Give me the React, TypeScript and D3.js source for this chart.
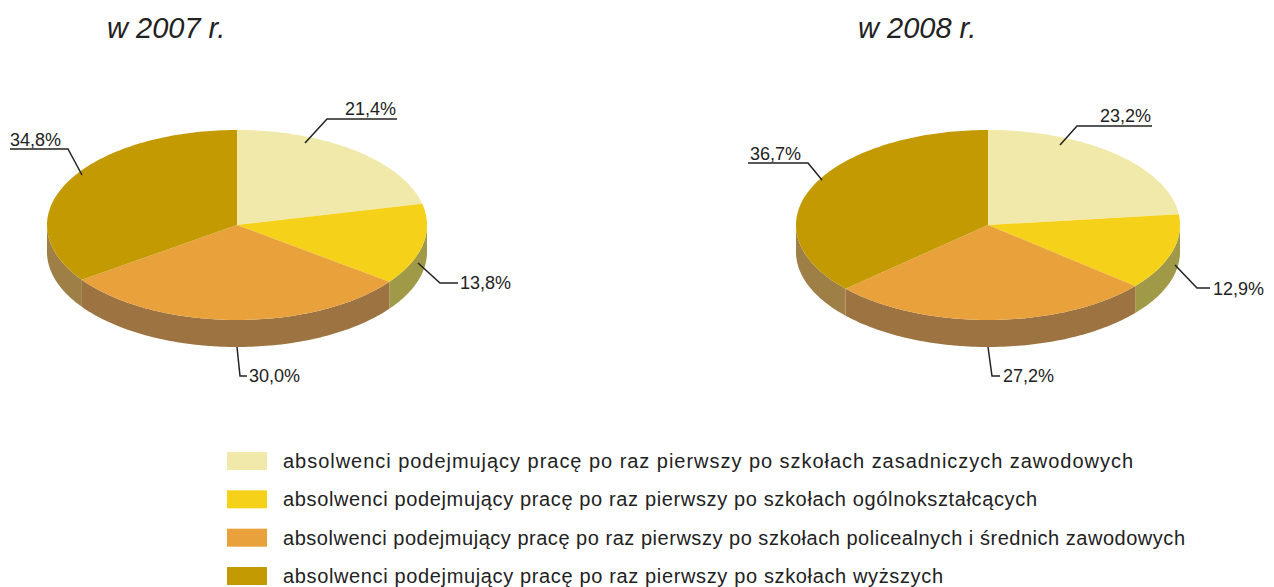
import { useEffect } from 'react'
import * as d3 from 'd3'

// categories (legend order = slice order, clockwise from 12 o'clock)
const categories = [
  'absolwenci podejmujący pracę po raz pierwszy po szkołach zasadniczych zawodowych',
  'absolwenci podejmujący pracę po raz pierwszy po szkołach ogólnokształcących',
  'absolwenci podejmujący pracę po raz pierwszy po szkołach policealnych i średnich zawodowych',
  'absolwenci podejmujący pracę po raz pierwszy po szkołach wyższych',
]
const years = ['w 2007 r.', 'w 2008 r.']
const values2007 = [21.4, 13.8, 30.0, 34.8]
const values2008 = [23.2, 12.9, 27.2, 36.7]

const topColors = ['#f0e9a9', '#f6d119', '#e9a13b', '#c49a02']
const sideColors = ['#b0a860', '#a09a48', '#9d7441', '#9e8046']

const W = 1274
const H = 587

// leader line layout relative to pie centre: [start, elbow, end], text side
type Leader = { pts: [number, number][]; anchor: 'start' | 'end'; tx: number; ty: number }

const leaders2007: Leader[] = [
  { pts: [[68, -82], [90, -106], [160, -106]], anchor: 'end', tx: 159, ty: -110 },
  { pts: [[181, 38], [203, 58], [221, 58]], anchor: 'start', tx: 223, ty: 64 },
  { pts: [[0, 122], [3, 151], [10, 151]], anchor: 'start', tx: 12, ty: 157 },
  { pts: [[-155, -50], [-169, -76], [-227, -76]], anchor: 'start', tx: -227, ty: -79 },
]
const leaders2008: Leader[] = [
  { pts: [[72, -80], [89, -99], [164, -99]], anchor: 'end', tx: 163, ty: -103 },
  { pts: [[187, 40], [209, 63], [222, 63]], anchor: 'start', tx: 225, ty: 70 },
  { pts: [[0, 122], [4, 151], [12, 151]], anchor: 'start', tx: 15, ty: 157 },
  { pts: [[-166, -45], [-180, -62], [-240, -62]], anchor: 'start', tx: -238, ty: -65 },
]

const fmt = (v: number) => v.toFixed(1).replace('.', ',') + '%'

function Pie3D({ values, cx, cy, rx, ry, depth, title, leaders }: {
  values: number[]; cx: number; cy: number; rx: number; ry: number; depth: number; title: string; leaders: Leader[]
}) {
  const arcs = d3.pie<number>().sort(null)(values)
  const pt = (a: number, dy = 0): [number, number] => [cx + rx * Math.sin(a), cy - ry * Math.cos(a) + dy]

  const samples = (a0: number, a1: number) => {
    const n = Math.max(2, Math.ceil((a1 - a0) / 0.02))
    return d3.range(n + 1).map(i => a0 + (a1 - a0) * i / n)
  }

  const topPath = (a0: number, a1: number) => {
    const p = d3.path()
    p.moveTo(cx, cy)
    samples(a0, a1).forEach(a => { const [x, y] = pt(a); p.lineTo(x, y) })
    p.closePath()
    return p.toString()
  }

  // outer wall, only the front half (90°..270°) shows
  const sidePath = (a0: number, a1: number) => {
    const s = Math.max(a0, Math.PI / 2)
    const e = Math.min(a1, Math.PI * 1.5)
    if (e <= s) return null
    const p = d3.path()
    const fwd = samples(s, e)
    fwd.forEach((a, i) => { const [x, y] = pt(a); i ? p.lineTo(x, y) : p.moveTo(x, y) })
    fwd.slice().reverse().forEach(a => { const [x, y] = pt(a, depth); p.lineTo(x, y) })
    p.closePath()
    return p.toString()
  }

  const line = d3.line()

  return (
    <g>
      <text x={cx - 130} y={38} fontFamily="Liberation Sans, Arial, sans-serif" fontStyle="italic" fontSize={29} fill="#222">{title}</text>
      {arcs.map((d, i) => {
        const sp = sidePath(d.startAngle, d.endAngle)
        return sp ? <path key={'s' + i} d={sp} fill={sideColors[i]} /> : null
      })}
      {arcs.map((d, i) => (
        <path key={'t' + i} d={topPath(d.startAngle, d.endAngle)} fill={topColors[i]} />
      ))}
      {arcs.map((d, i) => {
        const l = leaders[i]
        return (
          <g key={'l' + i}>
            <path d={line(l.pts.map(([x, y]) => [cx + x, cy + y]) as [number, number][]) || ''} fill="none" stroke="#222" strokeWidth={1.5} />
            <text x={cx + l.tx} y={cy + l.ty} textAnchor={l.anchor} fontFamily="Liberation Sans, Arial, sans-serif" fontSize={18} fill="#222">{fmt(d.data)}</text>
          </g>
        )
      })}
    </g>
  )
}

const legendWidths = [850, 754, 902, 660]

export default function App() {
  useEffect(() => { document.body.style.margin = '0' }, [])
  const rowY = d3.scalePoint<number>().domain(d3.range(categories.length)).range([461, 576])
  return (
    <svg width={W} height={H} style={{ display: 'block', background: '#fff' }}>
      <Pie3D values={values2007} cx={237} cy={225} rx={190} ry={95} depth={27} title={years[0]} leaders={leaders2007} />
      <Pie3D values={values2008} cx={988} cy={225} rx={192} ry={95} depth={27} title={years[1]} leaders={leaders2008} />
      {categories.map((c, i) => (
        <g key={c}>
          <rect x={227} y={rowY(i)! - 9} width={40} height={18} fill={topColors[i]} />
          <text x={283} y={rowY(i)! + 7} fontFamily="Liberation Sans, Arial, sans-serif" fontSize={20} fill="#222"
            textLength={legendWidths[i]} lengthAdjust="spacing">{c}</text>
        </g>
      ))}
    </svg>
  )
}
